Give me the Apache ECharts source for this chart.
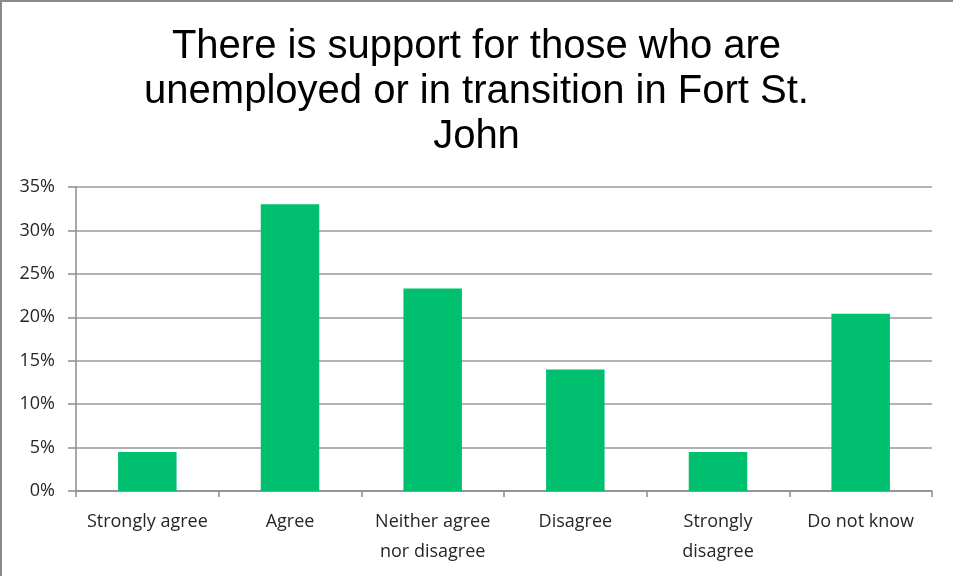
<!DOCTYPE html>
<html>
<head>
<meta charset="utf-8">
<script src="https://cdn.jsdelivr.net/npm/echarts@6/dist/echarts.min.js"></script>
<style>
html,body{margin:0;padding:0;background:#fff;}
#frame{position:absolute;left:0;top:0;width:953px;height:576px;box-sizing:border-box;border-top:2px solid #8a8a8a;border-left:2px solid #8a8a8a;}
#chart{position:absolute;left:0;top:0;width:953px;height:576px;}
</style>
</head>
<body>
<div id="chart"></div>
<div id="frame"></div>
<script>
const titleText = "There is support for those who are\nunemployed or in transition in Fort St.\nJohn";
const categories = ["Strongly agree", "Agree", "Neither agree\nnor disagree", "Disagree", "Strongly\ndisagree", "Do not know"];
const values = [4.5, 33.0, 23.3, 14.0, 4.5, 20.4];
const yTicks = [0, 5, 10, 15, 20, 25, 30, 35];

const chart = echarts.init(document.getElementById('chart'));
chart.setOption({
  animation: false,
  backgroundColor: '#fff',
  title: {
    text: titleText,
    left: 'center',
    top: 19,
    textStyle: {fontFamily: 'Liberation Sans', fontSize: 40, fontWeight: 'normal', color: '#000', lineHeight: 45}
  },
  grid: {left: 76, right: 21, top: 187, bottom: 85, containLabel: false},
  xAxis: {
    type: 'category',
    data: categories,
    axisLine: {lineStyle: {color: '#8c8c8c', width: 1.5}},
    axisTick: {show: true, alignWithLabel: false, length: 6, lineStyle: {color: '#8c8c8c', width: 1.5}},
    axisLabel: {fontFamily: 'Open Sans', fontSize: 18, color: '#262626', margin: 16, lineHeight: 30, interval: 0}
  },
  yAxis: {
    type: 'value',
    min: yTicks[0],
    max: yTicks[yTicks.length - 1],
    interval: 5,
    axisLine: {show: true, lineStyle: {color: '#8c8c8c', width: 1.5}},
    axisTick: {show: true, length: 8, lineStyle: {color: '#8c8c8c', width: 1.5}},
    splitLine: {lineStyle: {color: '#9a9a9a', width: 1.5}},
    axisLabel: {fontFamily: 'Open Sans', fontSize: 18, color: '#262626', margin: 21, formatter: v => v + '%'}
  },
  series: [{
    type: 'bar',
    data: values,
    barWidth: '41%',
    itemStyle: {color: '#00BF6F'}
  }]
});
</script>
</body>
</html>
